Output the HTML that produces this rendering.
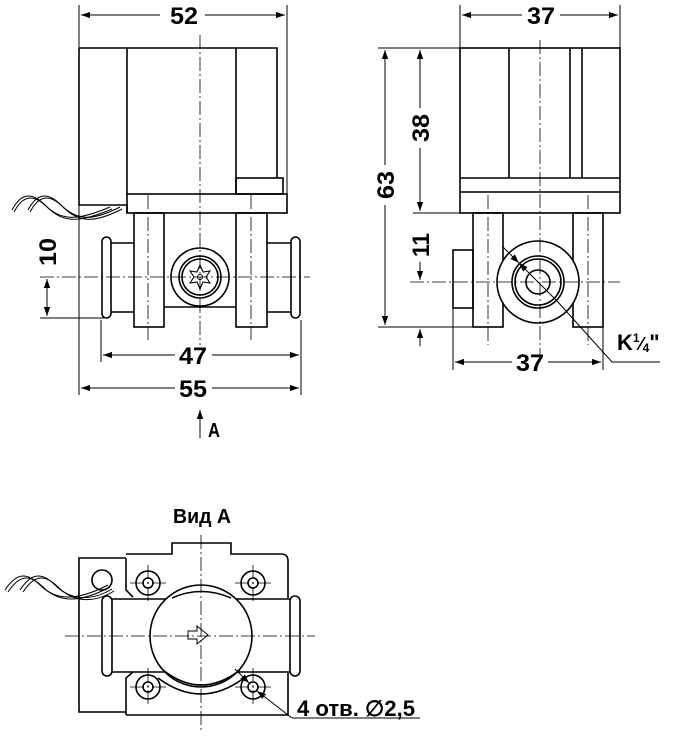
<!DOCTYPE html>
<html><head><meta charset="utf-8"><style>
html,body{margin:0;padding:0;background:#fff;}
svg{display:block;}
text{font-family:"Liberation Sans",sans-serif;font-weight:bold;fill:#000;}
</style></head><body>
<svg width="674" height="740" viewBox="0 0 674 740" xmlns="http://www.w3.org/2000/svg">
<defs>
<marker id="a" viewBox="0 0 10 10" refX="10" refY="5" markerWidth="9" markerHeight="9" orient="auto-start-reverse" markerUnits="userSpaceOnUse"><path d="M0,1.5 L10,5 L0,8.5 Z" fill="#000"/></marker>
</defs>
<g fill="none" stroke="#000" stroke-width="1.6">
<!-- ===== VIEW 1 ===== -->
<line x1="79" y1="5" x2="79" y2="48" stroke-width="1"/>
<line x1="287" y1="5" x2="287" y2="194" stroke-width="1"/>
<line x1="81" y1="15" x2="160" y2="15" stroke-width="1" marker-start="url(#a)"/>
<line x1="205" y1="15" x2="285" y2="15" stroke-width="1" marker-end="url(#a)"/>
<path d="M79,48 H277 V178 M79,48 V205 H127 V213"/>
<line x1="127" y1="48" x2="127" y2="194"/>
<line x1="236" y1="48" x2="236" y2="194"/>
<rect x="236" y="178" width="47" height="16"/>
<rect x="127" y="194" width="160" height="19"/>
<rect x="134" y="213" width="30" height="114"/>
<rect x="236" y="213" width="31" height="114"/>
<line x1="164" y1="307" x2="236" y2="307"/>
<path d="M111,243 H134 M111,312 H134 M267,243 H291 M267,312 H291"/>
<rect x="102" y="237" width="9" height="81" rx="4.5"/>
<rect x="291" y="237" width="9" height="81" rx="4.5"/>
<circle cx="200" cy="277" r="29"/>
<circle cx="200" cy="277" r="21"/>
<circle cx="200" cy="277" r="18"/>
<path d="M200,265 L203,272 L210,271 L206,277 L210,283 L203,282 L200,289 L197,282 L190,283 L194,277 L190,271 L197,272 Z" stroke-width="1.1"/>
<circle cx="200" cy="277" r="2.5" stroke-width="1"/>
<path d="M12,210 C20,195 30,190 45,205 C60,220 75,222 110,207" stroke-width="1"/>
<path d="M14,212 C22,197 32,192 47,207 C62,222 77,224 112,209" stroke-width="1"/>
<path d="M28,210 C36,195 46,190 61,205 C76,220 91,222 120,207" stroke-width="1"/>
<path d="M30,212 C38,197 48,192 63,207 C78,222 93,224 122,209" stroke-width="1"/>
<g stroke-width="0.8" stroke-dasharray="14,3,2,3">
<line x1="200" y1="35" x2="200" y2="345"/>
<line x1="40" y1="277" x2="310" y2="277"/>
<line x1="148" y1="195" x2="148" y2="340"/>
<line x1="251" y1="195" x2="251" y2="340"/>
</g>
<line x1="40" y1="318" x2="104" y2="318" stroke-width="1"/>
<line x1="47" y1="279" x2="47" y2="316" stroke-width="1" marker-start="url(#a)" marker-end="url(#a)"/>
<line x1="101" y1="320" x2="101" y2="362" stroke-width="1"/>
<line x1="301" y1="320" x2="301" y2="395" stroke-width="1"/>
<line x1="79" y1="205" x2="79" y2="395" stroke-width="1"/>
<line x1="103" y1="355" x2="175" y2="355" stroke-width="1" marker-start="url(#a)"/>
<line x1="212" y1="355" x2="299" y2="355" stroke-width="1" marker-end="url(#a)"/>
<line x1="81" y1="388" x2="175" y2="388" stroke-width="1" marker-start="url(#a)"/>
<line x1="212" y1="388" x2="299" y2="388" stroke-width="1" marker-end="url(#a)"/>
<line x1="200" y1="438" x2="200" y2="410" stroke-width="1" marker-end="url(#a)"/>

<!-- ===== VIEW 2 ===== -->
<line x1="460" y1="5" x2="460" y2="48" stroke-width="1"/>
<line x1="620" y1="5" x2="620" y2="48" stroke-width="1"/>
<line x1="462" y1="15" x2="522" y2="15" stroke-width="1" marker-start="url(#a)"/>
<line x1="560" y1="15" x2="618" y2="15" stroke-width="1" marker-end="url(#a)"/>
<rect x="460" y="48" width="160" height="165"/>
<path d="M509,48 V178 M570,48 V178 M582,48 V178"/>
<line x1="460" y1="178" x2="620" y2="178"/>
<line x1="460" y1="192" x2="620" y2="192"/>
<rect x="473" y="213" width="30" height="114"/>
<rect x="573" y="213" width="30" height="114"/>
<rect x="453" y="250" width="20" height="58"/>
<circle cx="538" cy="282" r="41" fill="#fff"/>
<circle cx="538" cy="282" r="26"/>
<circle cx="538" cy="282" r="23"/>
<circle cx="538" cy="282" r="12"/>
<g stroke-width="0.8" stroke-dasharray="14,3,2,3">
<line x1="540" y1="40" x2="540" y2="365"/>
<line x1="410" y1="282" x2="620" y2="282"/>
<line x1="488" y1="195" x2="488" y2="345"/>
<line x1="588" y1="195" x2="588" y2="345"/>
</g>
<line x1="378" y1="48" x2="460" y2="48" stroke-width="1"/>
<line x1="378" y1="327" x2="473" y2="327" stroke-width="1"/>
<line x1="413" y1="213" x2="460" y2="213" stroke-width="1"/>
<line x1="385" y1="50" x2="385" y2="165" stroke-width="1" marker-start="url(#a)"/>
<line x1="385" y1="205" x2="385" y2="325" stroke-width="1" marker-end="url(#a)"/>
<line x1="420" y1="50" x2="420" y2="108" stroke-width="1" marker-start="url(#a)"/>
<line x1="420" y1="148" x2="420" y2="211" stroke-width="1" marker-end="url(#a)"/>
<line x1="420" y1="262" x2="420" y2="280" stroke-width="1" marker-end="url(#a)"/>
<line x1="420" y1="346" x2="420" y2="329" stroke-width="1" marker-end="url(#a)"/>
<line x1="453" y1="308" x2="453" y2="370" stroke-width="1"/>
<line x1="603" y1="327" x2="603" y2="370" stroke-width="1"/>
<line x1="455" y1="362" x2="512" y2="362" stroke-width="1" marker-start="url(#a)"/>
<line x1="548" y1="362" x2="601" y2="362" stroke-width="1" marker-end="url(#a)"/>
<line x1="503" y1="247" x2="519" y2="263" stroke-width="1" marker-end="url(#a)"/>
<line x1="519" y1="263" x2="557" y2="301" stroke-width="1" marker-start="url(#a)"/>
<polyline points="557,301 612,362 660,362" stroke-width="1"/>

<!-- ===== VIEW A ===== -->
<path d="M126,558 H79 V712 H126"/>
<path d="M126,715 V678 L133,672 M126,558 V590 L133,597 M126,554 H172 V543 H231 V554 H281 Q288,554 288,561 V598 M288,673 V715 H126"/>
<path d="M112,599 H290 M112,672 H290" />
<rect x="102" y="596" width="10" height="80" rx="5" fill="#fff"/>
<rect x="290" y="596" width="10" height="80" rx="5" fill="#fff"/>
<circle cx="201" cy="636" r="51" fill="#fff"/>
<path d="M172,598 Q201,585 231,598"/>
<path d="M163,670 Q201,700 240,670"/>
<path d="M158,678 Q201,710 244,678"/>
<g fill="#fff">
<circle cx="148" cy="583" r="12"/><circle cx="253" cy="583" r="12"/>
<circle cx="148" cy="687" r="12"/><circle cx="253" cy="687" r="12"/>
</g>
<circle cx="148" cy="583" r="5"/><circle cx="253" cy="583" r="5"/>
<circle cx="148" cy="687" r="5"/><circle cx="253" cy="687" r="5"/>
<circle cx="102" cy="580" r="10"/>
<path d="M188,631 H197 V626 L208,635 L197,644 V639 H188 Z" stroke-width="1"/>
<g stroke-width="0.8" stroke-dasharray="14,3,2,3">
<line x1="201" y1="535" x2="201" y2="732"/>
<line x1="65" y1="636" x2="315" y2="636"/>
<line x1="130" y1="583" x2="168" y2="583"/><line x1="235" y1="583" x2="272" y2="583"/>
<line x1="130" y1="687" x2="168" y2="687"/><line x1="235" y1="687" x2="272" y2="687"/>
<line x1="148" y1="565" x2="148" y2="602"/><line x1="253" y1="565" x2="253" y2="602"/>
<line x1="148" y1="668" x2="148" y2="705"/><line x1="253" y1="668" x2="253" y2="705"/>
</g>
<path d="M5,590 C15,575 25,570 40,585 C55,600 75,602 108,585" stroke-width="1"/>
<path d="M8,592 C18,577 28,572 43,587 C58,602 78,604 110,587" stroke-width="1"/>
<path d="M20,590 C30,575 40,570 55,585 C70,600 90,602 112,589" stroke-width="1"/>
<path d="M23,592 C33,577 43,572 58,587 C73,602 93,604 114,591" stroke-width="1"/>
<line x1="235" y1="669" x2="249" y2="683" stroke-width="1" marker-end="url(#a)"/>
<line x1="257" y1="691" x2="292" y2="718" stroke-width="1" marker-start="url(#a)"/>
<line x1="292" y1="718" x2="420" y2="718" stroke-width="1"/>
</g>
<!-- text -->
<g font-size="24" font-weight="bold" lengthAdjust="spacingAndGlyphs">
<text x="170" y="24" textLength="28" lengthAdjust="spacingAndGlyphs">52</text>
<text x="179" y="364" textLength="28" lengthAdjust="spacingAndGlyphs">47</text>
<text x="179" y="397" textLength="28" lengthAdjust="spacingAndGlyphs">55</text>
<text x="208" y="437" font-size="20" textLength="12" lengthAdjust="spacingAndGlyphs">A</text>
<text x="527" y="24" textLength="28" lengthAdjust="spacingAndGlyphs">37</text>
<text x="516" y="371" textLength="28" lengthAdjust="spacingAndGlyphs">37</text>
<text transform="translate(56,252) rotate(-90)" x="-14" textLength="28" lengthAdjust="spacingAndGlyphs">10</text>
<text transform="translate(394,185) rotate(-90)" x="-14" textLength="28" lengthAdjust="spacingAndGlyphs">63</text>
<text transform="translate(429,128) rotate(-90)" x="-14" textLength="28" lengthAdjust="spacingAndGlyphs">38</text>
<text transform="translate(429,245) rotate(-90)" x="-12" textLength="24" lengthAdjust="spacingAndGlyphs">11</text>
<text x="617" y="350" font-size="22">K<tspan font-size="12" dy="-8">1</tspan><tspan dy="8" font-size="18">⁄</tspan><tspan font-size="12" dy="2">4</tspan><tspan dy="-2">"</tspan></text>
<text x="173" y="523" font-size="20" textLength="58" lengthAdjust="spacingAndGlyphs">Вид А</text>
<text x="297" y="716" font-size="22" textLength="118" lengthAdjust="spacingAndGlyphs">4 отв. ∅2,5</text>
</g>
</svg>
</body></html>
